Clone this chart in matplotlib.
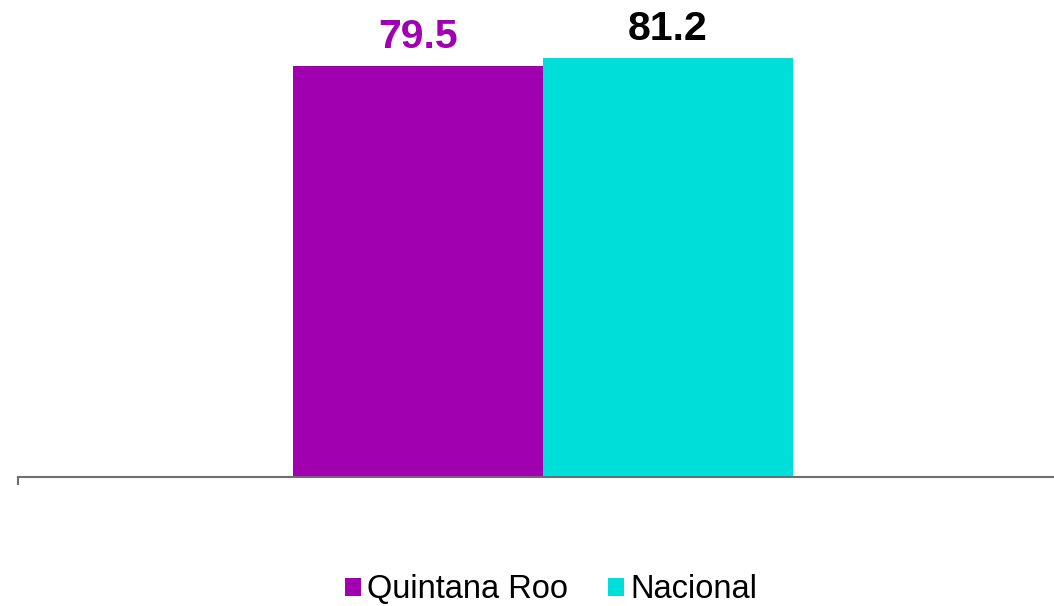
import matplotlib.pyplot as plt

plt.rcParams['font.family'] = ['Liberation Sans', 'DejaVu Sans']

series = ['Quintana Roo', 'Nacional']
values = [79.5, 81.2]
colors = ['#A000B0', '#00DEDA']
label_colors = ['#A000B0', '#000000']

W, H = 1054, 606
fig = plt.figure(figsize=(W / 100, H / 100), dpi=100)
ax = fig.add_axes([18 / W, 1 - 477 / H, 1 - 18 / W, 477 / H])

bw = 0.25
offsets = [-bw / 2, bw / 2]
for name, v, c, lc, off in zip(series, values, colors, label_colors, offsets):
    ax.bar(off, v, width=bw, color=c, label=name)
    ax.annotate(f'{v:.1f}', (off, v), xytext=(0, 18), textcoords='offset pixels',
                ha='center', va='baseline', fontsize=29.5, fontweight='bold', color=lc)

ax.set_xlim(-0.525, 0.511)
ax.set_ylim(0, 92.35)
for s in ['top', 'right', 'left']:
    ax.spines[s].set_visible(False)
ax.spines['bottom'].set_color('#6E6E6E')
ax.spines['bottom'].set_linewidth(1.5)
ax.set_yticks([])
ax.set_xticks([-0.525])
ax.set_xticklabels([])
ax.tick_params(axis='x', length=6, width=1.5, color='#6E6E6E', direction='out')

# legend at the bottom, no frame
fig.legend(loc='center', bbox_to_anchor=(551 / W, 1 - 590 / H), ncol=2, frameon=False,
           fontsize=23.5, handlelength=0.5, handleheight=0.5, handletextpad=0.2,
           columnspacing=1.2, borderpad=0.1)

fig.savefig('out.png', dpi=100)
